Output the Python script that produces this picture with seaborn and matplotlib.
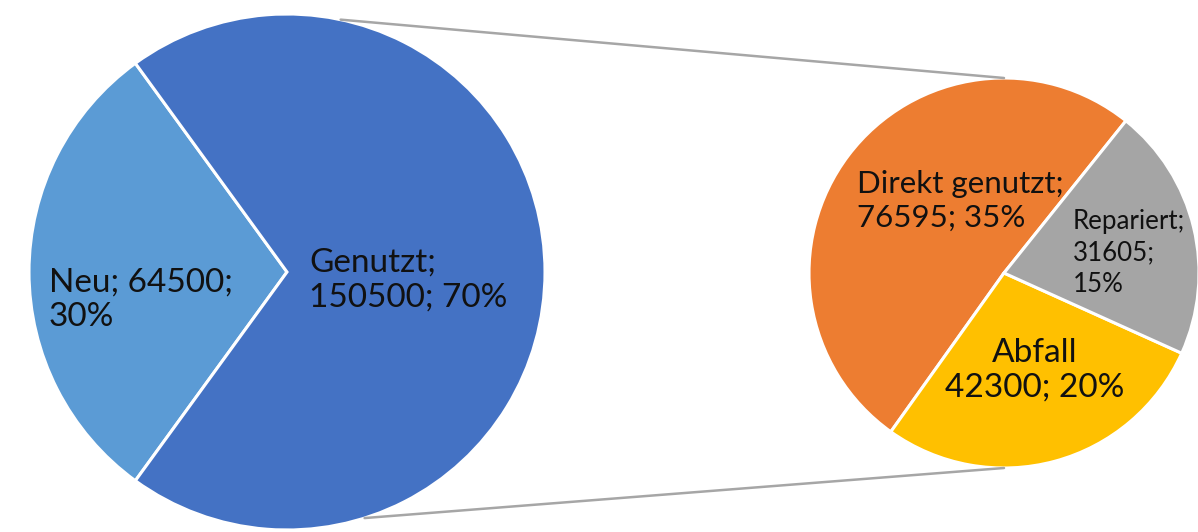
import numpy as np
import matplotlib
matplotlib.use("Agg")
import matplotlib.pyplot as plt
import seaborn as sns

# ---- data ----
main_labels = ["Neu", "Genutzt"]
main_values = [64500, 150500]
main_pct = ["30%", "70%"]

sub_labels = ["Direkt genutzt", "Abfall", "Repariert"]
sub_values = [76595, 42300, 31605]
sub_pct = ["35%", "20%", "15%"]

main_colors = ["#5B9BD5", "#4472C4"]
sub_colors = ["#ED7D31", "#FFC000", "#A5A5A5"]

sns.set_theme(style="white")
plt.rcParams['font.family'] = ['Lato', 'DejaVu Sans']

W, H = 1198, 532
fig = plt.figure(figsize=(W / 100, H / 100), dpi=100)
ax = fig.add_axes([0, 0, 1, 1])

# geometry (pixel-like units, y up)
c1 = (287, H - 272); r1 = 258
c2 = (1004, H - 273); r2 = 195

wp = dict(edgecolor='white', linewidth=2.2)
ax.pie(main_values, colors=main_colors, startangle=126, center=c1,
       radius=r1, wedgeprops=wp, frame=True)
ax.pie(sub_values, colors=sub_colors, startangle=51.3, center=c2,
       radius=r2, wedgeprops=wp, frame=True)
ax.set_xlim(0, W)
ax.set_ylim(0, H)
ax.set_aspect('equal')
ax.axis('off')

# connector lines
a_top, a_bot = np.deg2rad(78), np.deg2rad(-72.5)
p1 = (c1[0] + r1 * np.cos(a_top), c1[1] + r1 * np.sin(a_top))
p2 = (c1[0] + r1 * np.cos(a_bot), c1[1] + r1 * np.sin(a_bot))
ax.plot([p1[0], c2[0]], [p1[1], c2[1] + r2], color="#A6A6A6", lw=1.8,
        solid_capstyle='round')
ax.plot([p2[0], c2[0]], [p2[1], c2[1] - r2], color="#A6A6A6", lw=1.8,
        solid_capstyle='round')

tc = "#111111"
ax.text(49, H - 300, f"{main_labels[0]}; {main_values[0]};\n{main_pct[0]}",
        ha='left', va='center', fontsize=24, color=tc, linespacing=1.2)
ax.text(309, H - 280, f"{main_labels[1]};\n{main_values[1]}; {main_pct[1]}",
        ha='left', va='center', fontsize=24, color=tc, linespacing=1.2)
ax.text(857, H - 201, f"{sub_labels[0]};\n{sub_values[0]}; {sub_pct[0]}",
        ha='left', va='center', fontsize=22.5, color=tc, linespacing=1.25)
ax.text(1035, H - 370, f"{sub_labels[1]}\n{sub_values[1]}; {sub_pct[1]}",
        ha='center', va='center', fontsize=24, color=tc, linespacing=1.2)
ax.text(1073, H - 253, f"{sub_labels[2]};\n{sub_values[2]};\n{sub_pct[2]}",
        ha='left', va='center', fontsize=18.6, color=tc, linespacing=1.3)

fig.savefig("out.png", dpi=100, facecolor='white')
